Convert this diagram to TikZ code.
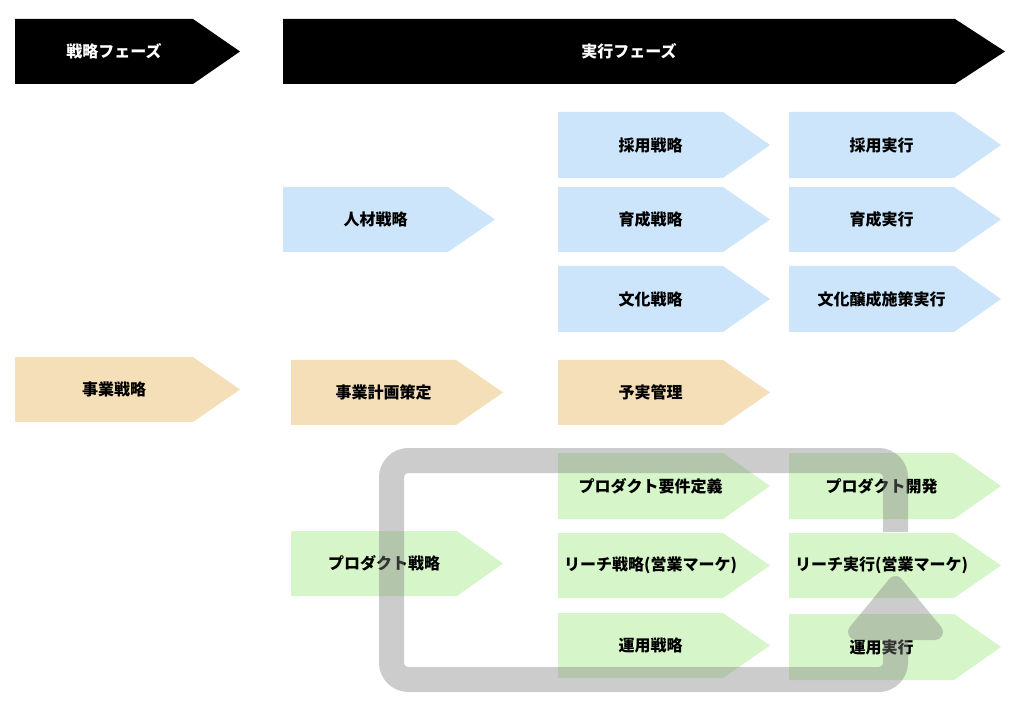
\documentclass[tikz,border=0pt]{standalone}
\usepackage{fontspec}
\newfontfamily\jp{Noto Sans CJK JP}
\definecolor{cblue}{HTML}{CCE5FA}
\definecolor{corange}{HTML}{F5DFB8}
\definecolor{cgreen}{HTML}{D6F5C9}
\tikzset{lbl/.style={font=\jp\bfseries\fontsize{12}{14}\selectfont, inner sep=0pt, text=black},
  loopline/.style={draw=gray, line width=18.75pt, rounded corners=12.75pt},
  loophead/.style={fill=gray, draw=gray, line width=12pt, line join=round}}
% name, left, top, rect right, bottom, tip x, fill colour, text
\newcommand\chev[8]{%
  \fill[#7] (#2,#3) -- (#4,#3) -- (#6,{(#3+#5)/2}) -- (#4,#5) -- (#2,#5) -- cycle;
  \node[lbl] (#1) at ({(#2+#4)/2+10},{(#3+#5)/2}) {#8};}
\begin{document}
\begin{tikzpicture}[x=0.75pt,y=-0.75pt]
\useasboundingbox (0,0) rectangle (1028,716);
% phases
\chev{sp}{15}{19}{193}{84}{240}{black}{\color{white}戦略フェーズ}
\chev{ep}{283}{19}{955}{84}{1005}{black}{\color{white}実行フェーズ}
% people
\chev{hr}{283}{187}{448}{252}{495}{cblue}{人材戦略}
\chev{rs}{558}{112}{723}{178}{770}{cblue}{採用戦略}
\chev{re}{789}{112}{954}{178}{1001}{cblue}{採用実行}
\chev{ds}{558}{187}{723}{252}{770}{cblue}{育成戦略}
\chev{de}{789}{187}{954}{252}{1001}{cblue}{育成実行}
\chev{cs}{558}{266}{723}{332}{770}{cblue}{文化戦略}
\chev{ce}{789}{266}{954}{332}{1001}{cblue}{文化醸成施策実行}
% business
\chev{bs}{15}{357}{193}{422}{240}{corange}{事業戦略}
\chev{bp}{291}{360}{456}{425}{503}{corange}{事業計画策定}
\chev{bm}{558}{360}{723}{425}{770}{corange}{予実管理}
% product
\chev{ps}{291}{531}{457}{596}{503}{cgreen}{プロダクト戦略}
\chev{pr}{558}{453}{723}{519}{770}{cgreen}{プロダクト要件定義}
\chev{pd}{789}{453}{954}{519}{1001}{cgreen}{プロダクト開発}
\chev{ls}{558}{533}{723}{598}{770}{cgreen}{リーチ戦略(営業マーケ)}
\chev{le}{789}{533}{954}{598}{1001}{cgreen}{リーチ実行(営業マーケ)}
\chev{os}{558}{613}{723}{678}{770}{cgreen}{運用戦略}
\chev{oe}{789}{614}{954}{680}{1001}{cgreen}{運用実行}
% loop
\coordinate (l1) at (895.5,532);
\coordinate (l2) at (895.5,460.5);
\coordinate (l3) at (391.5,460.5);
\coordinate (l4) at (391.5,679.5);
\coordinate (l5) at (895.5,679.5);
\coordinate (l6) at (895.5,630);
\coordinate (t1) at (895.5,584);
\coordinate (t2) at (856,632);
\coordinate (t3) at (935,632);
\begin{scope}[transparency group, opacity=0.4]
\draw[loopline] (l1) -- (l2) -- (l3) -- (l4) -- (l5) -- (l6);
\filldraw[loophead] (t1) -- (t2) -- (t3) -- cycle;
\end{scope}
\end{tikzpicture}
\end{document}
